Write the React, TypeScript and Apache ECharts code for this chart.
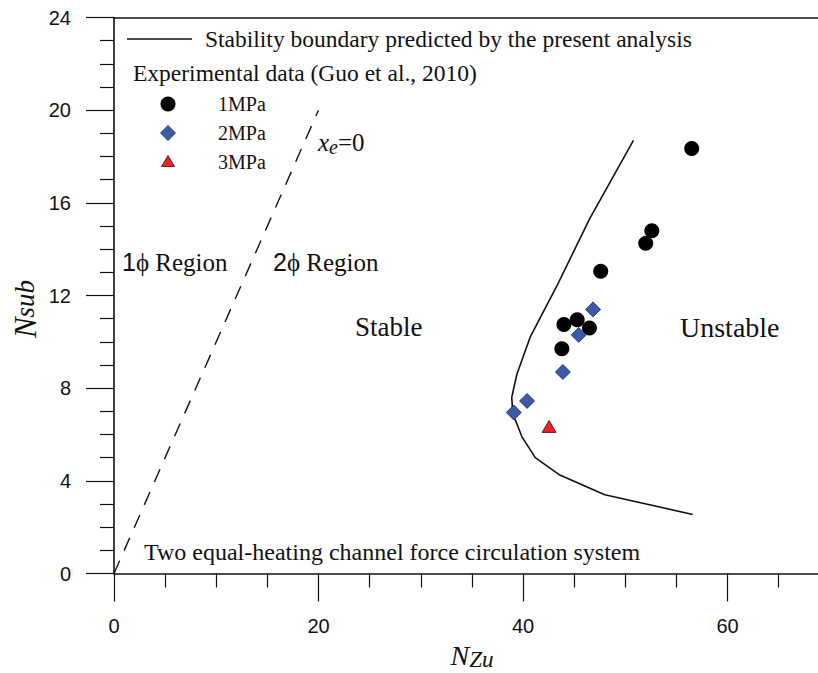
import React, { useEffect, useRef } from 'react';
import * as echarts from 'echarts';

// Stability boundary predicted by the present analysis
const BOUNDARY_X = [50.8, 46.5, 43.3, 40.7, 39.4, 38.9, 39.0, 39.9, 41.2, 43.6, 48.0, 56.6];
const BOUNDARY_Y = [18.7, 15.3, 12.4, 10.2, 8.6, 7.6, 6.9, 5.9, 5.0, 4.25, 3.4, 2.55];
// x_e = 0 line
const XE0_X = [0, 20];
const XE0_Y = [0, 20];
// Experimental data (Guo et al., 2010)
const MPA1_X = [56.5, 52.6, 52.0, 47.6, 44.0, 45.3, 46.5, 43.8];
const MPA1_Y = [18.35, 14.8, 14.25, 13.05, 10.75, 10.95, 10.6, 9.7];
const MPA2_X = [46.85, 45.45, 43.9, 40.4, 39.1];
const MPA2_Y = [11.4, 10.3, 8.7, 7.45, 6.95];
const MPA3_X = [42.55];
const MPA3_Y = [6.35];
const SERIES_NAMES = ['1MPa', '2MPa', '3MPa'];
const X_LABELS = [0, 20, 40, 60];
const Y_LABELS = [0, 4, 8, 12, 16, 20, 24];

const zip = (xs: number[], ys: number[]) => xs.map((x, i) => [x, ys[i]]);

const SERIF = 'Liberation Serif';
const SANS = 'Liberation Sans';
const INK = '#111';
const BLUE = '#3b5ba6';
const RED = '#e8232a';

export default function App() {
  const ref = useRef<HTMLDivElement>(null);
  useEffect(() => {
    if (!ref.current) return;
    const chart = echarts.init(ref.current, null, { renderer: 'svg' });
    const axisLine = { lineStyle: { color: INK, width: 1.6 } };
    const tick = { lineStyle: { color: INK, width: 1.2 } };
    const option: any = {
      animation: false,
      backgroundColor: '#fff',
      grid: { left: 114, top: 17.5, width: 818, height: 556, containLabel: false },
      xAxis: [
        {
          type: 'value', min: 0, max: 80, interval: 20, position: 'bottom',
          axisLine: { show: true, onZero: false, ...axisLine },
          axisTick: { show: true, length: 28, ...tick },
          minorTick: { show: true, splitNumber: 4, length: 14, ...tick },
          splitLine: { show: false },
          axisLabel: {
            margin: 42, fontFamily: SANS, fontSize: 20, color: INK,
            formatter: (v: number) => (X_LABELS.includes(v) ? String(v) : ''),
          },
        },
        {
          type: 'value', min: 0, max: 80, interval: 20, position: 'top',
          axisLine: { show: true, onZero: false, ...axisLine },
          axisTick: { show: false }, axisLabel: { show: false }, splitLine: { show: false },
        },
      ],
      yAxis: {
        type: 'value', min: 0, max: 24, interval: 4,
        axisLine: { show: true, onZero: false, ...axisLine },
        axisTick: { show: true, length: 28, ...tick },
        minorTick: { show: true, splitNumber: 4, length: 14, ...tick },
        splitLine: { show: false },
        axisLabel: {
          margin: 43, fontFamily: SANS, fontSize: 20, color: INK,
          formatter: (v: number) => (Y_LABELS.includes(v) ? String(v) : ''),
        },
      },
      series: [
        {
          name: 'boundary', type: 'line', data: zip(BOUNDARY_X, BOUNDARY_Y),
          showSymbol: false, symbol: 'none', lineStyle: { color: INK, width: 1.6 }, z: 2,
        },
        {
          name: 'xe0', type: 'line', data: zip(XE0_X, XE0_Y),
          showSymbol: false, symbol: 'none', lineStyle: { color: INK, width: 1.4, type: [14, 11] }, z: 2,
        },
        {
          name: SERIES_NAMES[0], type: 'scatter', data: zip(MPA1_X, MPA1_Y), symbol: 'circle', symbolSize: 15,
          itemStyle: { color: '#000', opacity: 1 }, z: 3,
        },
        {
          name: SERIES_NAMES[1], type: 'scatter', data: zip(MPA2_X, MPA2_Y), symbol: 'diamond', symbolSize: [15, 15],
          itemStyle: { color: BLUE, borderColor: '#1b2550', borderWidth: 0.8, opacity: 1 }, z: 4,
        },
        {
          name: SERIES_NAMES[2], type: 'scatter', data: zip(MPA3_X, MPA3_Y), symbol: 'triangle', symbolSize: [14, 12],
          itemStyle: { color: RED, borderColor: '#400', borderWidth: 0.8, opacity: 1 }, z: 4,
        },
      ],
      graphic: [
        // legend
        { type: 'line', shape: { x1: 127, y1: 39, x2: 192, y2: 39 }, style: { stroke: INK, lineWidth: 1.6 } },
        { type: 'text', x: 205, y: 39, style: { text: 'Stability boundary predicted by the present analysis', font: `23.5px "${SERIF}"`, fill: INK, verticalAlign: 'middle' } },
        { type: 'text', x: 133, y: 73, style: { text: 'Experimental data (Guo et al., 2010)', font: `23.5px "${SERIF}"`, fill: INK, verticalAlign: 'middle' } },
        { type: 'circle', shape: { cx: 168, cy: 104, r: 7.5 }, style: { fill: '#000' } },
        { type: 'polygon', shape: { points: [[168, 125.5], [175.5, 133], [168, 140.5], [160.5, 133]] }, style: { fill: BLUE, stroke: '#1b2550', lineWidth: 0.8 } },
        { type: 'polygon', shape: { points: [[168, 155.5], [174.5, 166.5], [161.5, 166.5]] }, style: { fill: RED, stroke: '#400', lineWidth: 0.8 } },
        { type: 'text', x: 218, y: 104, style: { text: SERIES_NAMES[0], font: `20px "${SERIF}"`, fill: INK, verticalAlign: 'middle' } },
        { type: 'text', x: 218, y: 133, style: { text: SERIES_NAMES[1], font: `20px "${SERIF}"`, fill: INK, verticalAlign: 'middle' } },
        { type: 'text', x: 218, y: 162, style: { text: SERIES_NAMES[2], font: `20px "${SERIF}"`, fill: INK, verticalAlign: 'middle' } },
        // annotations
        {
          type: 'text', x: 122, y: 262,
          style: {
            text: '{a|1}{b|ϕ Region}', verticalAlign: 'middle', fill: INK,
            rich: { a: { fontFamily: SANS, fontSize: 25, fill: INK }, b: { fontFamily: SERIF, fontSize: 25, fill: INK } },
          },
        },
        {
          type: 'text', x: 273, y: 262,
          style: {
            text: '{a|2}{b|ϕ Region}', verticalAlign: 'middle', fill: INK,
            rich: { a: { fontFamily: SANS, fontSize: 25, fill: INK }, b: { fontFamily: SERIF, fontSize: 25, fill: INK } },
          },
        },
        { type: 'text', x: 355, y: 327, style: { text: 'Stable', font: `27px "${SERIF}"`, fill: INK, verticalAlign: 'middle' } },
        { type: 'text', x: 680, y: 327, style: { text: 'Unstable', font: `28px "${SERIF}"`, fill: INK, verticalAlign: 'middle' } },
        {
          type: 'text', x: 318, y: 142,
          style: {
            text: '{i|x}{s|e}{n|=0}', verticalAlign: 'middle', fill: INK,
            rich: {
              i: { fontFamily: SERIF, fontStyle: 'italic', fontSize: 25, fill: INK },
              s: { fontFamily: SERIF, fontStyle: 'italic', fontSize: 20, fill: INK, padding: [10, 0, 0, 0] },
              n: { fontFamily: SERIF, fontSize: 25, fill: INK },
            },
          },
        },
        { type: 'text', x: 144, y: 552, style: { text: 'Two equal-heating channel force circulation system', font: `24px "${SERIF}"`, fill: INK, verticalAlign: 'middle' } },
        // axis titles
        {
          type: 'text', x: 472, y: 655,
          style: {
            text: '{n|N}{s|Zu}', align: 'center', verticalAlign: 'middle', fill: INK,
            rich: {
              n: { fontFamily: SERIF, fontStyle: 'italic', fontSize: 28, fill: INK },
              s: { fontFamily: SERIF, fontStyle: 'italic', fontSize: 23, fill: INK, padding: [8, 0, 0, 0] },
            },
          },
        },
        {
          type: 'text', x: 25, y: 309, rotation: Math.PI / 2,
          style: {
            text: '{n|N}{s|sub}', align: 'center', verticalAlign: 'middle', fill: INK,
            rich: {
              n: { fontFamily: SERIF, fontStyle: 'italic', fontSize: 31, fill: INK },
              s: { fontFamily: SERIF, fontStyle: 'italic', fontSize: 27, fill: INK },
            },
          },
        },
      ],
    };
    chart.setOption(option);
    return () => chart.dispose();
  }, []);
  return (
    <div style={{ position: 'fixed', left: 0, top: 0, width: 818, height: 673, overflow: 'hidden', background: '#fff' }}>
      <div ref={ref} style={{ width: 960, height: 673 }} />
    </div>
  );
}
